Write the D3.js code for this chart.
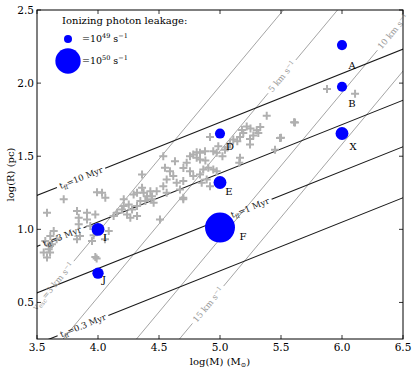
<!DOCTYPE html>
<html>
<head>
<meta charset="utf-8">
<script src="https://cdn.jsdelivr.net/npm/d3@7"></script>
<style>
  body { margin: 0; background: #fff; }
  svg { display: block; }
  text { font-family: "DejaVu Serif", "Liberation Serif", serif; }
</style>
</head>
<body>
<div id="chart"></div>
<script>
// axes
const xTicks = [3.5, 4.0, 4.5, 5.0, 5.5, 6.0, 6.5];
const yTicks = [0.5, 1.0, 1.5, 2.0, 2.5];

// free-fall time lines (Myr): log R at log M = 3.5, slope 1/3
const tffTimes = ['10', '3', '1', '0.3'];
const tffIntercepts = [1.232, 0.883, 0.565, 0.216];
const tffLabelM = [3.861, 3.705, 5.246, 3.877];

// escape velocity lines (km/s): log R = log M + log(2G) - 2 log v
const vescValues = [3, 5, 10, 15];
const vescLabelM = [3.631, 5.508, 6.418, 4.902];

// clusters with leakage (log M, log R, Q in 1e49 s^-1)
const clusterNames = ['A', 'B', 'X', 'D', 'E', 'F', 'I', 'J'];
const clusterM = [6.0, 6.0, 6.0, 5.0, 5.0, 5.0, 4.0, 4.0];
const clusterR = [2.26, 1.975, 1.655, 1.655, 1.32, 1.012, 1.0, 0.70];
const clusterQ = [1.6, 1.6, 2.6, 1.6, 2.6, 14, 2.6, 2.0];

// comparison sample (grey crosses)
const sampleM = [5.383, 5.607, 5.301, 5.314, 5.273, 5.219, 5.246, 5.191, 5.164, 5.142,
  5.109, 5.082, 4.986, 4.945, 4.918, 5.492, 5.246, 5.451, 5.164, 5.158,
  4.877, 4.836, 4.809, 4.781, 4.754, 4.809, 4.836, 4.727, 4.631, 4.535,
  4.549, 4.590, 4.617, 4.563, 4.535, 4.481, 4.645, 4.699, 4.754, 4.781,
  4.836, 4.863, 4.904, 4.945, 4.973, 4.891, 4.850, 4.918, 4.699, 4.672,
  4.440, 4.973, 5.041, 3.992, 4.033, 4.060, 3.719, 3.582, 3.828, 3.910,
  3.978, 3.842, 3.910, 3.842, 3.937, 4.088, 3.828, 3.964, 3.951, 3.637,
  3.609, 3.568, 3.623, 3.596, 3.555, 3.582, 3.978, 4.211, 4.252, 4.292,
  4.320, 4.361, 4.374, 4.402, 4.429, 4.388, 4.347, 4.320, 4.279, 4.238,
  4.265, 4.320, 4.197, 4.156, 4.128, 4.211, 4.361, 4.443, 4.456, 3.661,
  3.607, 3.607, 4.057, 3.989, 3.852, 4.563, 4.699, 4.508, 5.877, 6.107,
  5.615, 5.500, 5.060, 4.700, 4.880, 5.020, 5.250, 5.330, 5.180];
const sampleR = [1.777, 1.732, 1.677, 1.659, 1.641, 1.704, 1.618, 1.659, 1.632, 1.602,
  1.614, 1.586, 1.568, 1.534, 1.632, 1.625, 1.580, 1.545, 1.489, 1.455,
  1.534, 1.523, 1.527, 1.511, 1.500, 1.489, 1.477, 1.455, 1.466, 1.500,
  1.421, 1.398, 1.364, 1.341, 1.295, 1.261, 1.318, 1.330, 1.398, 1.364,
  1.375, 1.409, 1.421, 1.409, 1.398, 1.341, 1.318, 1.295, 1.205, 1.273,
  1.205, 1.523, 1.545, 1.254, 1.250, 1.216, 1.205, 1.114, 1.125, 1.114,
  1.102, 1.080, 1.068, 1.034, 1.023, 0.989, 0.932, 0.959, 0.920, 0.989,
  0.954, 0.920, 0.898, 0.864, 0.841, 0.807, 0.811, 1.205, 1.170, 1.239,
  1.250, 1.284, 1.250, 1.227, 1.261, 1.193, 1.193, 1.159, 1.136, 1.102,
  1.080, 1.091, 1.136, 1.114, 1.091, 1.159, 1.375, 1.227, 1.182, 0.932,
  0.886, 0.841, 0.932, 0.800, 0.954, 1.250, 1.216, 1.068, 1.960, 1.927,
  1.730, 1.627, 1.560, 1.420, 1.470, 1.500, 1.690, 1.700, 1.680];

const W = 415, H = 373;
const G2 = Math.log10(2 * 4.3e-3);

// name label offsets from each dot centre, in pixels
const nameDx = [10, 10, 11, 10, 9, 23, 7, 6];
const nameDy = [20, 17, 13, 13, 9, 9, 8, 6];

const svg = d3.select('#chart').append('svg')
    .attr('width', W)
    .attr('height', H);

const x = d3.scaleLinear().domain([3.5, 6.5]).range([37, 403]);
const y = d3.scaleLinear().domain([0.25, 2.5]).range([339, 10]);

svg.append('clipPath').attr('id', 'plot-clip')
    .append('rect')
    .attr('x', x(3.5)).attr('y', y(2.5))
    .attr('width', x(6.5) - x(3.5)).attr('height', y(0.25) - y(2.5));

const plot = svg.append('g').attr('clip-path', 'url(#plot-clip)');
const labels = svg.append('g');

// draws a straight line with an inline label gap
function labelledLine(f, labelM, color, width, buildText) {
    const p0 = [x(3.0), y(f(3.0))];
    const p1 = [x(7.0), y(f(7.0))];
    const len = Math.hypot(p1[0] - p0[0], p1[1] - p0[1]);
    const u = [(p1[0] - p0[0]) / len, (p1[1] - p0[1]) / len];
    const c = [x(labelM), y(f(labelM))];
    const angle = Math.atan2(u[1], u[0]) * 180 / Math.PI;

    const t = labels.append('text')
        .attr('transform', `translate(${c[0]},${c[1]}) rotate(${angle})`)
        .attr('text-anchor', 'middle')
        .attr('dy', '0.35em')
        .attr('font-size', 8.5)
        .attr('fill', color);
    buildText(t);
    const g = t.node().getComputedTextLength() / 2 + 3;

    const segs = [
        [p0, [c[0] - g * u[0], c[1] - g * u[1]]],
        [[c[0] + g * u[0], c[1] + g * u[1]], p1]
    ];
    segs.forEach(s => {
        plot.append('line')
            .attr('x1', s[0][0]).attr('y1', s[0][1])
            .attr('x2', s[1][0]).attr('y2', s[1][1])
            .attr('stroke', color)
            .attr('stroke-width', width);
    });
}

// escape velocity lines
vescValues.forEach((v, i) => {
    labelledLine(m => m + G2 - 2 * Math.log10(v), vescLabelM[i], '#9a9a9a', 0.9, t => {
        if (i === 0) {
            t.append('tspan').text('v');
            t.append('tspan').attr('font-size', 6).attr('dy', 2).text('esc');
            t.append('tspan').attr('dy', -2).text('=3 km s');
        } else {
            t.append('tspan').text(`${v} km s`);
        }
        t.append('tspan').attr('font-size', 6).attr('dy', -3).text('−1');
    });
});

// free-fall time lines
tffTimes.forEach((tt, i) => {
    labelledLine(m => tffIntercepts[i] + (m - 3.5) / 3, tffLabelM[i], '#1a1a1a', 1.1, t => {
        t.append('tspan').text('t');
        t.append('tspan').attr('font-size', 6).attr('dy', 2).text('ff');
        t.append('tspan').attr('dy', -2).text(`=${tt} Myr`);
    });
});

// grey crosses
plot.selectAll('path.sample')
    .data(sampleM.map((m, i) => [m, sampleR[i]]))
    .join('path')
    .attr('class', 'sample')
    .attr('transform', d => `translate(${x(d[0])},${y(d[1])})`)
    .attr('d', 'M-4,0H4M0,-4V4')
    .attr('stroke', '#b0b0b0')
    .attr('stroke-width', 2);

// blue clusters
const rScale = q => 4 * Math.sqrt(q);
const clusters = clusterNames.map((n, i) => ({ n, i, m: clusterM[i], r: clusterR[i], q: clusterQ[i] }));

plot.selectAll('circle.cluster')
    .data(clusters)
    .join('circle')
    .attr('class', 'cluster')
    .attr('cx', d => x(d.m))
    .attr('cy', d => y(d.r))
    .attr('r', d => rScale(d.q))
    .attr('fill', '#0000ff');

svg.selectAll('text.cname')
    .data(clusters)
    .join('text')
    .attr('class', 'cname')
    .attr('x', d => x(d.m) + nameDx[d.i])
    .attr('y', d => y(d.r) + nameDy[d.i])
    .attr('dy', '0.35em')
    .attr('text-anchor', 'middle')
    .attr('font-size', 10)
    .attr('fill', '#000')
    .text(d => d.n);

// frame and ticks
svg.append('rect')
    .attr('x', x(3.5)).attr('y', y(2.5))
    .attr('width', x(6.5) - x(3.5)).attr('height', y(0.25) - y(2.5))
    .attr('fill', 'none')
    .attr('stroke', '#000')
    .attr('stroke-width', 1);

const ticks = svg.append('g').attr('stroke', '#000').attr('stroke-width', 0.8);
xTicks.forEach(t => {
    ticks.append('line').attr('x1', x(t)).attr('x2', x(t)).attr('y1', y(0.25)).attr('y2', y(0.25) - 4);
    ticks.append('line').attr('x1', x(t)).attr('x2', x(t)).attr('y1', y(2.5)).attr('y2', y(2.5) + 4);
});
yTicks.forEach(t => {
    ticks.append('line').attr('x1', x(3.5)).attr('x2', x(3.5) + 4).attr('y1', y(t)).attr('y2', y(t));
    ticks.append('line').attr('x1', x(6.5)).attr('x2', x(6.5) - 4).attr('y1', y(t)).attr('y2', y(t));
});

svg.selectAll('text.xtick')
    .data(xTicks)
    .join('text')
    .attr('class', 'xtick')
    .attr('x', d => x(d))
    .attr('y', y(0.25) + 12)
    .attr('text-anchor', 'middle')
    .attr('font-size', 10.5)
    .text(d => d.toFixed(1));

svg.selectAll('text.ytick')
    .data(yTicks)
    .join('text')
    .attr('class', 'ytick')
    .attr('x', x(3.5) - 3)
    .attr('y', d => y(d))
    .attr('dy', '0.35em')
    .attr('text-anchor', 'end')
    .attr('font-size', 10.5)
    .text(d => d.toFixed(1));

// axis titles
const xl = svg.append('text')
    .attr('x', 220).attr('y', 365)
    .attr('text-anchor', 'middle')
    .attr('font-size', 10);
xl.append('tspan').text('log(M) (M');
xl.append('tspan').attr('font-size', 6.5).attr('dy', 2).text('⊙');
xl.append('tspan').attr('dy', -2).text(')');

svg.append('text')
    .attr('transform', `translate(10,${(y(0.25) + y(2.5)) / 2}) rotate(-90)`)
    .attr('text-anchor', 'middle')
    .attr('dy', '0.35em')
    .attr('font-size', 10)
    .text('log(R) (pc)');

// legend
const legend = svg.append('g');
legend.append('text')
    .attr('x', 62).attr('y', 24)
    .attr('font-size', 10)
    .text('Ionizing photon leakage:');

const legendQ = [1, 10];
const legendExp = ['49', '50'];
const legendY = [39, 61];
legendQ.forEach((q, i) => {
    legend.append('circle')
        .attr('cx', 68).attr('cy', legendY[i])
        .attr('r', rScale(q))
        .attr('fill', '#0000ff');
    const t = legend.append('text')
        .attr('x', 82).attr('y', legendY[i])
        .attr('dy', '0.35em')
        .attr('font-size', 9.5);
    t.append('tspan').text('=10');
    t.append('tspan').attr('font-size', 6.5).attr('dy', -4).text(legendExp[i]);
    t.append('tspan').attr('dy', 4).text(' s');
    t.append('tspan').attr('font-size', 6.5).attr('dy', -4).text('−1');
});
</script>
</body>
</html>
